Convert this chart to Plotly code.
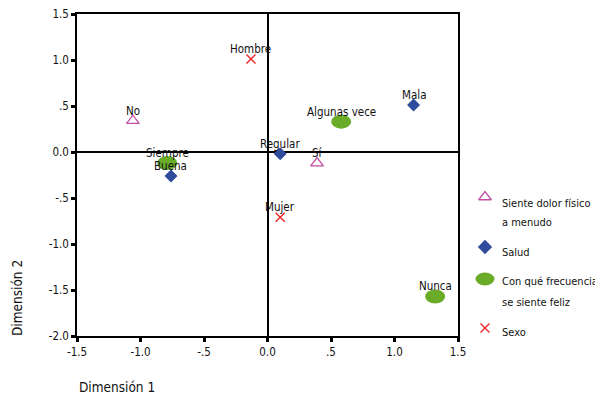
import plotly.graph_objects as go

# ---------------- data ----------------
dolor_labels = ["No", "Sí"]
dolor_x = [-1.06, 0.39]
dolor_y = [0.34, -0.12]

salud_labels = ["Mala", "Regular", "Buena"]
salud_x = [1.15, 0.10, -0.76]
salud_y = [0.51, -0.02, -0.26]

feliz_labels = ["Algunas vece", "Siempre", "Nunca"]
feliz_x = [0.58, -0.79, 1.32]
feliz_y = [0.33, -0.12, -1.57]

sexo_labels = ["Hombre", "Mujer"]
sexo_x = [-0.13, 0.10]
sexo_y = [1.01, -0.71]

legend_names = [["Siente dolor físico", "a menudo"], ["Salud"],
                ["Con qué frecuencia", "se siente feliz"], ["Sexo"]]

x_ticks = [-1.5, -1.0, -0.5, 0.0, 0.5, 1.0, 1.5]
x_ticktext = ["-1.5", "-1.0", "-.5", "0.0", ".5", "1.0", "1.5"]
y_ticks = [-2.0, -1.5, -1.0, -0.5, 0.0, 0.5, 1.0, 1.5]
y_ticktext = ["-2.0", "-1.5", "-1.0", "-.5", "0.0", ".5", "1.0", "1.5"]

# ---------------- style ----------------
OFF = 8                      # page body margin of the html page
W, H = 603 - OFF, 396 - OFF  # figure size
PL, PR, PT, PB = 77 - OFF, 458 - OFF, 14 - OFF, 336 - OFF  # plot area in figure pixels
FONT = "DejaVu Sans Condensed, DejaVu Sans, sans-serif"
C_TRI = "#c04ea4"
C_DIA = "#2f4b9b"
C_ELL = "#6aab28"
C_X = "#ee2424"


def px(v):
    return v - OFF


fig = go.Figure()

tri_marker = dict(symbol="triangle-up-open", size=11, color=C_TRI, line=dict(width=1.3, color=C_TRI))
dia_marker = dict(symbol="diamond", size=10, color=C_DIA, line=dict(width=0))
x_marker = dict(symbol="x-thin-open", size=9, color=C_X, line=dict(width=1.4, color=C_X))

fig.add_trace(go.Scatter(x=dolor_x, y=dolor_y, mode="markers", marker=tri_marker, showlegend=False, hoverinfo="skip"))
fig.add_trace(go.Scatter(x=salud_x, y=salud_y, mode="markers", marker=dia_marker, showlegend=False, hoverinfo="skip"))
fig.add_trace(go.Scatter(x=sexo_x, y=sexo_y, mode="markers", marker=x_marker, showlegend=False, hoverinfo="skip"))

shapes = []
# ellipses anchored at data points, pixel-sized
for fx, fy in zip(feliz_x, feliz_y):
    shapes.append(dict(type="circle", xref="x", yref="y", xsizemode="pixel", ysizemode="pixel",
                       xanchor=fx, yanchor=fy, x0=-10, x1=10, y0=-7, y1=7,
                       fillcolor=C_ELL, line=dict(width=0), layer="above"))

annotations = []
# point labels
for labels, xs, ys in [(dolor_labels, dolor_x, dolor_y), (salud_labels, salud_x, salud_y),
                       (feliz_labels, feliz_x, feliz_y), (sexo_labels, sexo_x, sexo_y)]:
    for t, xv, yv in zip(labels, xs, ys):
        annotations.append(dict(x=xv, y=yv, xref="x", yref="y", text=t, showarrow=False,
                                yshift=10, font=dict(family=FONT, size=11.5, color="#111111")))

# axis titles (pixel overlay axes)
annotations.append(dict(x=px(77), y=px(387), xref="x2", yref="y2", text="Dimensión 1", showarrow=False,
                        xanchor="left", yanchor="middle", font=dict(family=FONT, size=13.5, color="#111111")))
annotations.append(dict(x=px(17), y=px(298), xref="x2", yref="y2", text="Dimensión 2", showarrow=False,
                        textangle=-90, xanchor="center", yanchor="middle",
                        font=dict(family=FONT, size=13.5, color="#111111")))

# legend
leg_sym_x = px(485)
leg_text_x = px(500)
leg_rows = [px(197), px(247), px(279), px(328)]
text_rows = [[px(203), px(222)], [px(252)], [px(281), px(302)], [px(332)]]
for names, ys in zip(legend_names, text_rows):
    for t, yy in zip(names, ys):
        annotations.append(dict(x=leg_text_x, y=yy, xref="x2", yref="y2", text=t, showarrow=False,
                                xanchor="left", yanchor="middle", font=dict(family=FONT, size=11, color="#111111")))

fig.add_trace(go.Scatter(x=[leg_sym_x], y=[leg_rows[0]], xaxis="x2", yaxis="y2", mode="markers",
                         marker=tri_marker, showlegend=False, hoverinfo="skip"))
fig.add_trace(go.Scatter(x=[leg_sym_x], y=[leg_rows[1]], xaxis="x2", yaxis="y2", mode="markers",
                         marker=dict(dia_marker, size=11), showlegend=False, hoverinfo="skip"))
fig.add_trace(go.Scatter(x=[leg_sym_x], y=[leg_rows[3]], xaxis="x2", yaxis="y2", mode="markers",
                         marker=x_marker, showlegend=False, hoverinfo="skip"))
shapes.append(dict(type="circle", xref="x2", yref="y2", x0=leg_sym_x - 9.5, x1=leg_sym_x + 9.5,
                   y0=leg_rows[2] - 6.5, y1=leg_rows[2] + 6.5, fillcolor=C_ELL, line=dict(width=0)))

axis_common = dict(showgrid=False, zeroline=True, zerolinecolor="black", zerolinewidth=1.5,
                   showline=True, linecolor="black", linewidth=1.5, mirror=True,
                   ticks="outside", ticklen=4, tickwidth=3, tickcolor="black", automargin=False,
                   ticklabeloverflow="allow",
                   tickfont=dict(family=FONT, size=11.5, color="#111111"), fixedrange=True)

fig.update_layout(
    template="none",
    width=W, height=H,
    margin=dict(l=0, r=0, t=0, b=0, pad=0),
    paper_bgcolor="white", plot_bgcolor="rgba(0,0,0,0)",
    xaxis=dict(range=[-1.5, 1.5], domain=[PL / W, PR / W], tickvals=x_ticks, ticktext=x_ticktext,
               anchor="y", **axis_common),
    yaxis=dict(range=[-2.0, 1.5], domain=[(H - PB) / H, (H - PT) / H], tickvals=y_ticks,
               ticktext=y_ticktext, anchor="x", **axis_common),
    xaxis2=dict(range=[0, W], domain=[0, 1], visible=False, anchor="y2", fixedrange=True, automargin=False),
    yaxis2=dict(range=[H, 0], domain=[0, 1], visible=False, anchor="x2", fixedrange=True, automargin=False),
    shapes=shapes,
    annotations=annotations,
    showlegend=False,
)

fig.write_html("out.html")
